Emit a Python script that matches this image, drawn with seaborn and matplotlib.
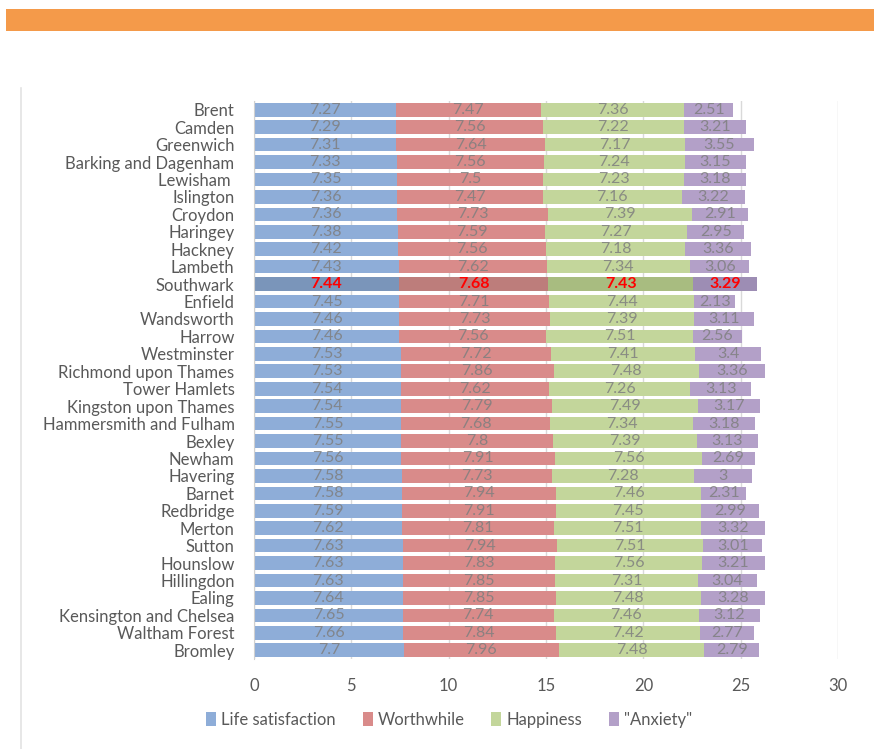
import matplotlib
matplotlib.use("Agg")
import matplotlib.pyplot as plt
import seaborn as sns
import pandas as pd
import numpy as np
from matplotlib.patches import Rectangle
from matplotlib.lines import Line2D

boroughs = ["Brent", "Camden", "Greenwich", "Barking and Dagenham", "Lewisham ", "Islington",
            "Croydon", "Haringey", "Hackney", "Lambeth", "Southwark", "Enfield", "Wandsworth",
            "Harrow", "Westminster", "Richmond upon Thames", "Tower Hamlets",
            "Kingston upon Thames", "Hammersmith and Fulham", "Bexley", "Newham", "Havering",
            "Barnet", "Redbridge", "Merton", "Sutton", "Hounslow", "Hillingdon", "Ealing",
            "Kensington and Chelsea", "Waltham Forest", "Bromley"]
life_satisfaction = [7.27, 7.29, 7.31, 7.33, 7.35, 7.36, 7.36, 7.38, 7.42, 7.43, 7.44, 7.45, 7.46,
                     7.46, 7.53, 7.53, 7.54, 7.54, 7.55, 7.55, 7.56, 7.58, 7.58, 7.59, 7.62, 7.63,
                     7.63, 7.63, 7.64, 7.65, 7.66, 7.7]
worthwhile = [7.47, 7.56, 7.64, 7.56, 7.5, 7.47, 7.73, 7.59, 7.56, 7.62, 7.68, 7.71, 7.73,
              7.56, 7.72, 7.86, 7.62, 7.79, 7.68, 7.8, 7.91, 7.73, 7.94, 7.91, 7.81, 7.94,
              7.83, 7.85, 7.85, 7.74, 7.84, 7.96]
happiness = [7.36, 7.22, 7.17, 7.24, 7.23, 7.16, 7.39, 7.27, 7.18, 7.34, 7.43, 7.44, 7.39,
             7.51, 7.41, 7.48, 7.26, 7.49, 7.34, 7.39, 7.56, 7.28, 7.46, 7.45, 7.51, 7.51,
             7.56, 7.31, 7.48, 7.46, 7.42, 7.48]
anxiety = [2.51, 3.21, 3.55, 3.15, 3.18, 3.22, 2.91, 2.95, 3.36, 3.06, 3.29, 2.13, 3.11,
           2.56, 3.4, 3.36, 3.13, 3.17, 3.18, 3.13, 2.69, 3, 2.31, 2.99, 3.32, 3.01,
           3.21, 3.04, 3.28, 3.12, 2.77, 2.79]
series_names = ["Life satisfaction", "Worthwhile", "Happiness", "\"Anxiety\""]
x_ticks = [0, 5, 10, 15, 20, 25, 30]
highlight = "Southwark"

colors = ["#8EADD8", "#D98B8A", "#C3D69B", "#B3A0C8"]
hl_colors = ["#7A95BA", "#BD7D7B", "#A8BC80", "#9D8DB4"]

FONT = ["Lato", "DejaVu Sans"]
plt.rcParams["font.family"] = FONT

df = pd.DataFrame({"borough": boroughs,
                   series_names[0]: life_satisfaction,
                   series_names[1]: worthwhile,
                   series_names[2]: happiness,
                   series_names[3]: anxiety})
vals = df[series_names].to_numpy()
cum = np.cumsum(vals, axis=1)

fig = plt.figure(figsize=(8.74, 7.49), dpi=100)
fig.patch.set_facecolor("white")

# orange header band and faint left frame line
fig.add_artist(Rectangle((6 / 874, 1 - 31 / 749), 868 / 874, 22 / 749,
                         transform=fig.transFigure, facecolor="#F49A4A", edgecolor="none"))
fig.add_artist(Line2D([21 / 874, 21 / 874], [0, 1 - 88 / 749], transform=fig.transFigure,
                      color="#E3E3E3", lw=1.2))

ax = fig.add_axes([254 / 874, 1 - 659 / 749, (838 - 254) / 874, (659 - 101) / 749])

for i in range(3, -1, -1):
    d = pd.DataFrame({"borough": boroughs, "v": cum[:, i]})
    sns.barplot(data=d, y="borough", x="v", orient="h", color=colors[i],
                width=0.78, ax=ax, saturation=1, edgecolor="none", linewidth=0)

# recolor highlighted row
hidx = boroughs.index(highlight)
for k, cont in enumerate(ax.containers):
    i = 3 - k
    cont.patches[hidx].set_facecolor(hl_colors[i])

# labels
for r in range(len(boroughs)):
    for i in range(4):
        xc = cum[r, i] - vals[r, i] / 2
        txt = f"{vals[r, i]:g}"
        if boroughs[r] == highlight:
            ax.text(xc, r, txt, ha="center", va="center", fontsize=11.5,
                    color="#FF0000", fontweight="bold")
        else:
            ax.text(xc, r, txt, ha="center", va="center", fontsize=11.5,
                    color="#7F7F7F", alpha=0.85)

ax.set_xlim(0, 30)
ax.set_ylim(len(boroughs) - 0.5, -0.5)
ax.set_xticks(x_ticks)
ax.set_xticklabels([str(t) for t in x_ticks])
ax.set_xlabel("")
ax.set_ylabel("")
ax.grid(axis="x", color="#D9D9D9", lw=1)
ax.set_axisbelow(True)
for s in ["top", "right", "bottom"]:
    ax.spines[s].set_visible(False)
ax.spines["left"].set_color("#D0D0D0")
ax.tick_params(axis="both", length=0, colors="#595959", labelsize=12)
ax.tick_params(axis="x", pad=14)
ax.tick_params(axis="y", pad=14)
ax.set_facecolor("white")

handles = [Rectangle((0, 0), 1, 1, facecolor=c, edgecolor="none") for c in colors]
fig.legend(handles, series_names, loc="center", bbox_to_anchor=(449 / 874, 1 - 720 / 749),
           ncol=4, frameon=False, fontsize=12, handlelength=0.6, handleheight=0.9,
           handletextpad=0.3, columnspacing=1.6, labelcolor="#595959")

fig.savefig("out.png", dpi=100, facecolor="white")
